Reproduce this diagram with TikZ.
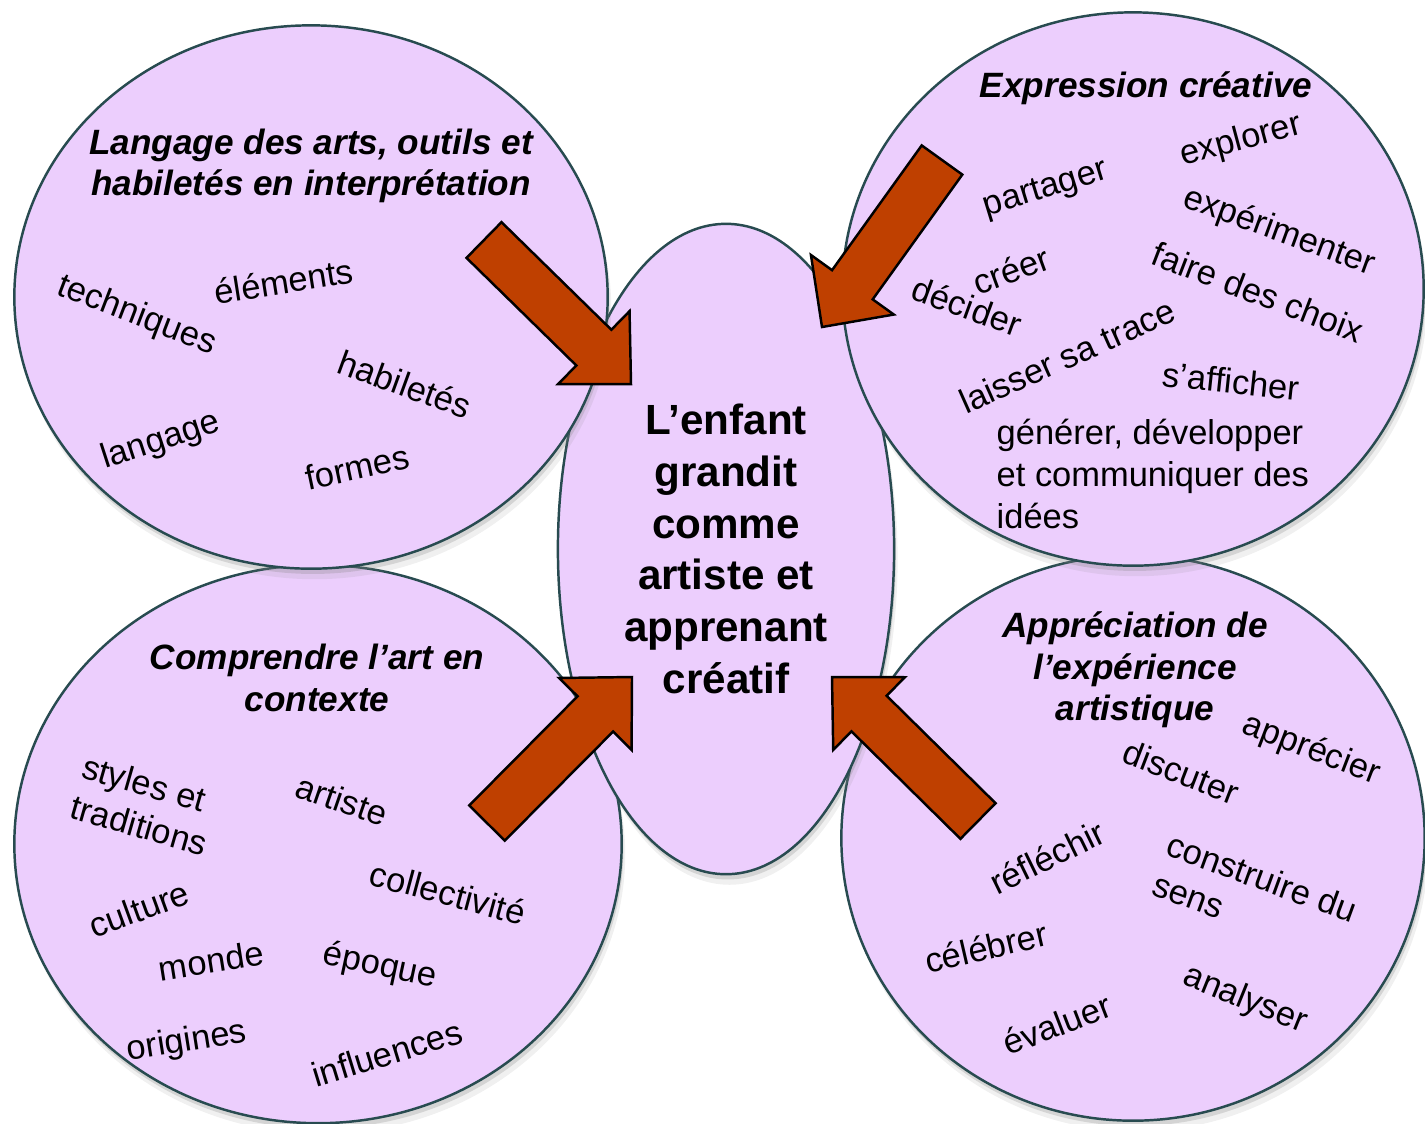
\documentclass[tikz,border=0pt]{standalone}
\usepackage{fontspec}
\setmainfont{Liberation Sans}
\usetikzlibrary{shapes.geometric,shadows,calc}

\definecolor{blobfill}{RGB}{236,206,253}
\definecolor{blobline}{RGB}{40,75,80}
\definecolor{arrowfill}{RGB}{191,64,0}

\tikzset{
  blob/.style={ellipse, draw=blobline, line width=0.7pt, fill=blobfill, inner sep=0pt,
    drop shadow={shadow xshift=0.5pt, shadow yshift=-1.5pt, opacity=0.25},
    drop shadow={shadow xshift=1pt, shadow yshift=-3pt, opacity=0.12}},
  word/.style={inner sep=0pt, font=\fontsize{9.8}{11.9}\selectfont},
  title/.style={inner sep=0pt, align=center, font=\fontsize{10}{11.8}\selectfont\bfseries\itshape},
  bigarrow/.style={fill=arrowfill, draw=black, line width=0.7pt, line join=miter},
}

% block arrow from tail #1 to tip #2
\newcommand{\fatarrow}[2]{%
  \coordinate (fa-h) at ($(#2)!0.52cm!(#1)$);
  \filldraw[bigarrow] ($(#1)!0.25cm!90:(#2)$) -- ($(fa-h)!0.25cm!90:(#2)$)
    -- ($(fa-h)!0.51cm!90:(#2)$) -- (#2) -- ($(fa-h)!0.51cm!-90:(#2)$)
    -- ($(fa-h)!0.25cm!-90:(#2)$) -- ($(#1)!0.25cm!-90:(#2)$) -- cycle;
}

\begin{document}
\begin{tikzpicture}[x=0.01cm,y=-0.01cm]
  \useasboundingbox (0,0) rectangle (1425,1123);

  % Bubbles
  \node[blob, minimum width=6.07cm, minimum height=5.58cm] (ctx) at (318,844) {};
  \node[blob, minimum width=5.83cm, minimum height=5.65cm] (appr) at (1133,838) {};
  \node[blob, minimum width=3.36cm, minimum height=6.5cm, align=center,
        font=\fontsize{12}{14.7}\selectfont\bfseries] (centre) at (726,549)
        {L’enfant\\grandit\\comme\\artiste et\\apprenant\\créatif};
  \node[blob, minimum width=5.93cm, minimum height=5.43cm] (lang) at (311,297) {};
  \node[blob, minimum width=5.81cm, minimum height=5.53cm] (expr) at (1133,289) {};

  % Arrows
  \coordinate (lang-tail) at (484,240);   \coordinate (lang-tip) at (631,384);
  \coordinate (expr-tail) at (942,160);   \coordinate (expr-tip) at (822,327);
  \coordinate (ctx-tail) at (487,823);    \coordinate (ctx-tip) at (632,677);
  \coordinate (appr-tail) at (978,821);   \coordinate (appr-tip) at (832,677);
  \fatarrow{lang-tail}{lang-tip}
  \fatarrow{expr-tail}{expr-tip}
  \fatarrow{ctx-tail}{ctx-tip}
  \fatarrow{appr-tail}{appr-tip}

  % Langage des arts
  \node[title] (lang-title) at (311,166) {Langage des arts, outils et\\habiletés en interprétation};
  \node[word, rotate=-21] (techniques) at (137,316) {techniques};
  \node[word, rotate=9] (elements) at (284,281) {éléments};
  \node[word, rotate=-20] (habiletes) at (405,384) {habiletés};
  \node[word, rotate=18] (langage) at (161,441) {langage};
  \node[word, rotate=12] (formes) at (357,467) {formes};

  % Expression creative
  \node[title] (expr-title) at (1146,88) {Expression créative};
  \node[word, rotate=15] (explorer) at (1241,141) {explorer};
  \node[word, rotate=17] (partager) at (1046,190) {partager};
  \node[word, rotate=-20] (experimenter) at (1279,232) {expérimenter};
  \node[word, rotate=20] (creer) at (1011,270) {créer};
  \node[word, rotate=-21] (choix) at (1258,292) {faire des choix};
  \node[word, rotate=-20] (decider) at (967,306) {décider};
  \node[word, rotate=24] (trace) at (1067,356) {laisser sa trace};
  \node[word, rotate=-6] (afficher) at (1231,381) {s’afficher};
  \node[word, align=left, anchor=west] (idees) at (996,474)
    {générer, développer\\et communiquer des\\idées};

  % Comprendre l'art
  \node[title] (ctx-title) at (317,678) {Comprendre l’art en\\contexte};
  \node[word, rotate=-16, align=left] (styles) at (145,805) {styles et\\traditions};
  \node[word, rotate=-19] (artiste) at (342,800) {artiste};
  \node[word, rotate=20] (culture) at (139,909) {culture};
  \node[word, rotate=-15] (collectivite) at (448,893) {collectivité};
  \node[word, rotate=9] (monde) at (211,961) {monde};
  \node[word, rotate=-12] (epoque) at (380,967) {époque};
  \node[word, rotate=9] (origines) at (187,1042) {origines};
  \node[word, rotate=17] (influences) at (387,1053) {influences};

  % Appreciation
  \node[title] (appr-title) at (1135,670) {Appréciation de\\l’expérience\\artistique};
  \node[word, rotate=-21] (apprecier) at (1311,750) {apprécier};
  \node[word, rotate=-21] (discuter) at (1181,772) {discuter};
  \node[word, rotate=26] (reflechir) at (1047,857) {réfléchir};
  \node[word, rotate=-20, align=left] (sens) at (1255,897) {construire du\\sens};
  \node[word, rotate=13] (celebrer) at (986,947) {célébrer};
  \node[word, rotate=21] (evaluer) at (1057,1024) {évaluer};
  \node[word, rotate=-22] (analyser) at (1245,1000) {analyser};
\end{tikzpicture}
\end{document}
